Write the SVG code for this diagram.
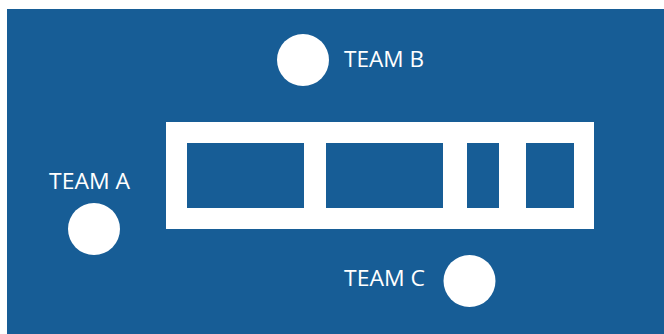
<svg xmlns="http://www.w3.org/2000/svg" width="664" height="334" viewBox="0 0 664 334">
  <style>
    .bg { fill: #175d96; }
    .white { fill: #ffffff; }
    .slot { fill: #175d96; }
    .label { font-family: "Open Sans", "Liberation Sans", sans-serif; font-size: 21px; fill: #ffffff; }
  </style>
  <rect class="white" x="0" y="0" width="664" height="334"/>
  <rect class="bg" x="7" y="9" width="657" height="325"/>

  <!-- rack frame with four slots -->
  <g id="rack">
    <rect class="white" x="166" y="122" width="428" height="107"/>
    <rect class="slot" x="187" y="143" width="117" height="65"/>
    <rect class="slot" x="326" y="143" width="117" height="65"/>
    <rect class="slot" x="467" y="143" width="32" height="65"/>
    <rect class="slot" x="526" y="143" width="48" height="65"/>
  </g>

  <g id="team-a">
    <circle class="white" cx="94" cy="229" r="26"/>
    <text class="label" x="49" y="189" textLength="81" lengthAdjust="spacingAndGlyphs">TEAM A</text>
  </g>

  <g id="team-b">
    <circle class="white" cx="303" cy="60" r="26"/>
    <text class="label" x="344" y="67" textLength="80" lengthAdjust="spacingAndGlyphs">TEAM B</text>
  </g>

  <g id="team-c">
    <circle class="white" cx="469.5" cy="281" r="26"/>
    <text class="label" x="344" y="286" textLength="81" lengthAdjust="spacingAndGlyphs">TEAM C</text>
  </g>

  <g id="connectors"></g>
</svg>
